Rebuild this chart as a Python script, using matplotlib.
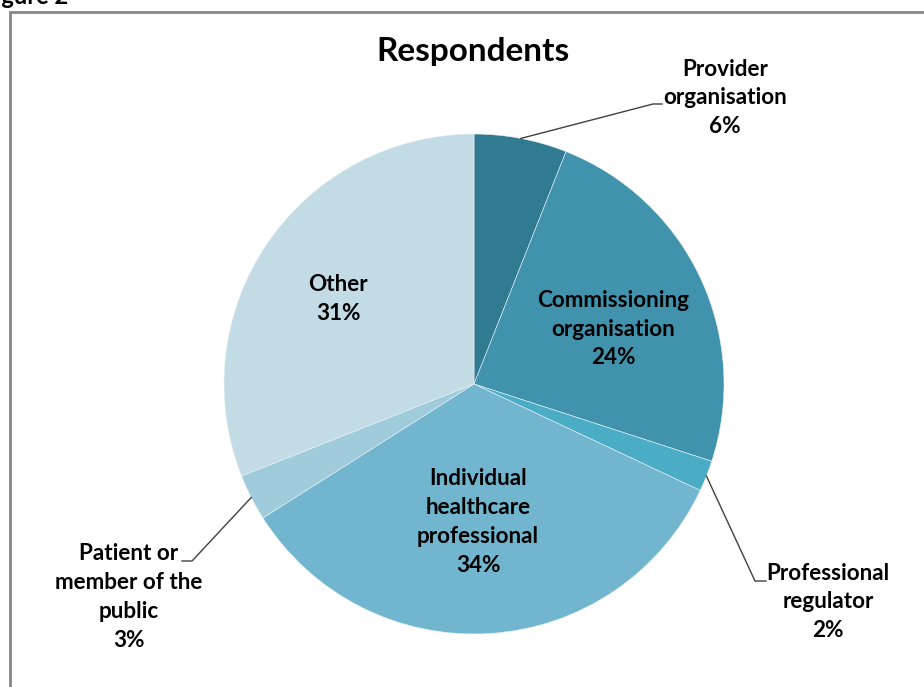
import numpy as np
import matplotlib.pyplot as plt
from matplotlib.patches import Rectangle

# Survey respondents by type
categories = ["Provider\norganisation", "Commissioning\norganisation", "Professional\nregulator",
              "Individual\nhealthcare\nprofessional", "Patient or\nmember of the\npublic", "Other"]
shares = [6, 24, 2, 34, 3, 31]
colors = ["#317B92", "#4193AD", "#4BACC6", "#71B6CE", "#9FCBDA", "#C2DBE4"]

W, H = 924, 687
plt.rcParams['font.family'] = ['Lato', 'DejaVu Sans']

fig = plt.figure(figsize=(W / 100, H / 100), dpi=100)
ax = fig.add_axes([0, 0, 1, 1])

def py(y):
    # convert top-down pixel rows to axis coordinates
    return H - y

cx, cy, r = 474, 384, 250
ax.pie(shares, colors=colors, startangle=90, counterclock=False,
       center=(cx, py(cy)), radius=r, frame=True,
       wedgeprops=dict(edgecolor='#e8f2f6', linewidth=0.4))
ax.set_xlim(0, W)
ax.set_ylim(0, H)
ax.axis('off')

# chart border and figure caption
ax.add_patch(Rectangle((10, py(12) - 800), 1000, 800, fill=False,
                       edgecolor='#878787', linewidth=2, clip_on=False))
ax.text(68, py(4), "Figure 2", ha='right', va='baseline', fontsize=17,
        fontweight='bold', color='black', clip_on=False)

ax.text(473, py(52), "Respondents", ha='center', va='center', fontsize=24,
        fontweight='bold', color='black')

labels = [f"{c}\n{v}%" for c, v in zip(categories, shares)]
# label centres (pixel rows from top)
label_pos = [(725, 98), (613, 329), (828, 602), (478, 522), (129, 597), (338, 299)]
for lab, (x, y) in zip(labels, label_pos):
    ax.text(x, py(y), lab, ha='center', va='center', fontsize=16.2,
            fontweight='bold', color='black', linespacing=1.46)

# leader lines for the outside labels
cum = np.cumsum([0] + shares[:-1])
mids = [90 - 3.6 * (c + v / 2) for c, v in zip(cum, shares)]
leaders = {0: [(653, 104), (662, 104)],
           2: [(755, 581), (766, 581)],
           4: [(192, 561), (182, 561)]}
for i, pts in leaders.items():
    a = np.deg2rad(mids[i])
    sx, sy = cx + r * np.cos(a), cy - r * np.sin(a)
    xs = [sx] + [p[0] for p in pts]
    ys = [py(sy)] + [py(p[1]) for p in pts]
    ax.plot(xs, ys, color='#404040', linewidth=1.0)

fig.savefig("out.png", dpi=100)
